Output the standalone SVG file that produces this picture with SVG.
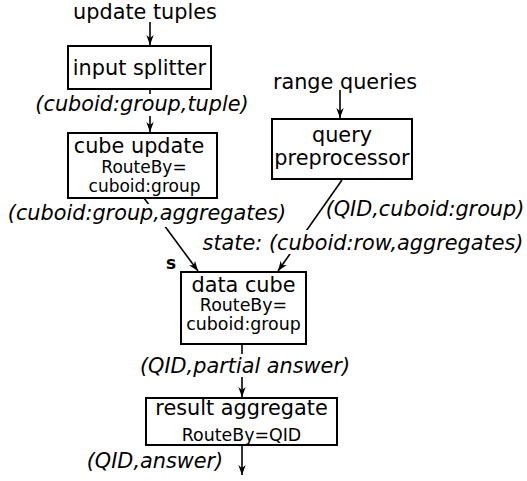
<svg xmlns="http://www.w3.org/2000/svg" width="527" height="481" viewBox="0 0 527 481">
<style>
text{font-family:"DejaVu Sans",sans-serif;fill:#000}
.m{font-size:20.8px}
.s{font-size:17.4px}
.t{font-size:17px}
.i{font-size:20.8px;font-style:italic}
.b{font-size:17px;font-weight:bold}
rect{fill:#fff;stroke:#000;stroke-width:2}
rect.bg{stroke:none}
.c line{stroke:#000;stroke-width:1.6}
</style>
<defs>
<marker id="a" markerWidth="11" markerHeight="8" refX="10" refY="4" orient="auto" markerUnits="userSpaceOnUse">
<path d="M0,0.3 L10,4 L0,7.7 L3,4 z" fill="#000"/>
</marker>
</defs>
<g class="c" id="connectors">
<line x1="150" y1="22" x2="150" y2="45" marker-end="url(#a)"/>
<line x1="150" y1="89" x2="150" y2="132" marker-end="url(#a)"/>
<line x1="340" y1="90" x2="340" y2="118" marker-end="url(#a)"/>
<line x1="144" y1="198" x2="198" y2="271" marker-end="url(#a)"/>
<line x1="342" y1="180" x2="278" y2="271" marker-end="url(#a)"/>
<line x1="242" y1="344" x2="242" y2="397" marker-end="url(#a)"/>
<line x1="242" y1="446" x2="242" y2="475" marker-end="url(#a)"/>
</g>
<g id="labels">
<text class="m" x="145" y="19" text-anchor="middle">update tuples</text>
<text class="m" x="345" y="89" text-anchor="middle">range queries</text>
<rect class="bg" x="35" y="94" width="214" height="22"/>
<text class="i" x="142" y="111" text-anchor="middle">(cuboid:group,tuple)</text>
<rect class="bg" x="7" y="204" width="281" height="23"/>
<text class="i" x="147" y="220" text-anchor="middle">(cuboid:group,aggregates)</text>
<text class="i" x="425" y="216" text-anchor="middle">(QID,cuboid:group)</text>
<rect class="bg" x="203" y="230" width="321" height="24"/>
<text class="i" x="363" y="250" text-anchor="middle">state: (cuboid:row,aggregates)</text>
<text class="b" x="171" y="269" text-anchor="middle">s</text>
<rect class="bg" x="140" y="354" width="211" height="23"/>
<text class="i" x="245" y="373" text-anchor="middle">(QID,partial answer)</text>
<text class="i" x="155" y="468" text-anchor="middle">(QID,answer)</text>
</g>
<g id="input-splitter">
<rect x="68" y="46" width="143" height="43"/>
<text class="m" x="139.5" y="75" text-anchor="middle">input splitter</text>
</g>
<g id="cube-update">
<rect x="68" y="133" width="149" height="65"/>
<text class="m" x="139" y="153" text-anchor="middle">cube update</text>
<text class="t" x="144" y="172.5" text-anchor="middle">RouteBy=</text>
<text class="t" x="144.5" y="192" text-anchor="middle">cuboid:group</text>
</g>
<g id="query-preprocessor">
<rect x="272" y="119" width="140" height="60"/>
<text class="m" x="342" y="142" text-anchor="middle">query</text>
<text class="m" x="342" y="165" text-anchor="middle">preprocessor</text>
</g>
<g id="data-cube">
<rect x="181" y="272" width="125" height="72"/>
<text class="m" x="243.5" y="292" text-anchor="middle">data cube</text>
<text class="s" x="243.5" y="311" text-anchor="middle">RouteBy=</text>
<text class="s" x="243.5" y="330" text-anchor="middle">cuboid:group</text>
</g>
<g id="result-aggregate">
<rect x="146" y="398" width="191" height="47"/>
<text class="m" x="241.5" y="415" text-anchor="middle">result aggregate</text>
<text class="s" x="241.5" y="441" text-anchor="middle">RouteBy=QID</text>
</g>
</svg>
